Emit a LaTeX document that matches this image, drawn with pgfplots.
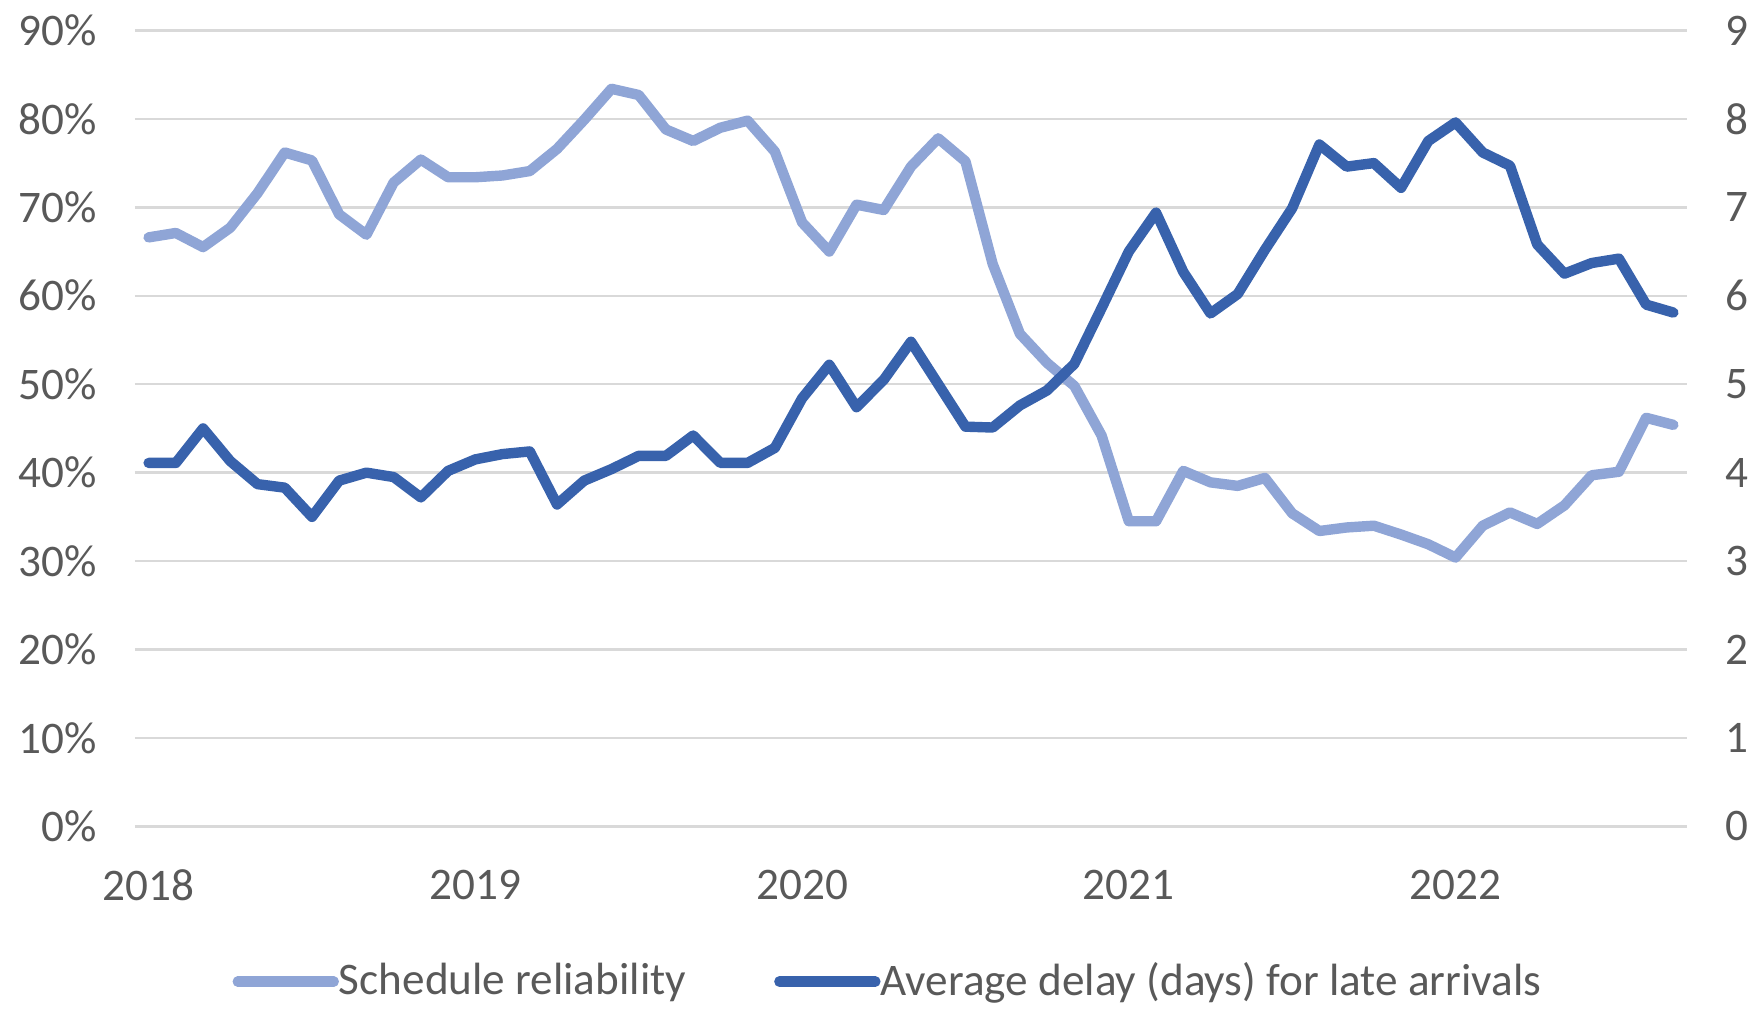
\documentclass[border=0pt]{standalone}
\usepackage{pgfplots}
\pgfplotsset{compat=1.18}
\usepackage{pgfplotstable}
\usepackage{fontspec}
\setmainfont{Carlito}
\definecolor{lightb}{HTML}{8FA5D6}
\definecolor{darkb}{HTML}{3862AC}
\definecolor{txt}{HTML}{595959}
\definecolor{gridc}{HTML}{D9D9D9}

\pgfplotstableread{
m v
0 66.6
1 67.1
2 65.5
3 67.7
4 71.6
5 76.2
6 75.3
7 69.2
8 66.9
9 72.8
10 75.4
11 73.4
12 73.4
13 73.6
14 74.1
15 76.6
16 79.9
17 83.4
18 82.7
19 78.8
20 77.5
21 79.0
22 79.8
23 76.3
24 68.3
25 65.0
26 70.3
27 69.7
28 74.6
29 77.8
30 75.2
31 63.6
32 55.7
33 52.4
34 49.8
35 44.2
36 34.5
37 34.5
38 40.2
39 38.9
40 38.5
41 39.4
42 35.4
43 33.4
44 33.8
45 34.0
46 33.0
47 31.9
48 30.4
49 34.0
50 35.5
51 34.2
52 36.3
53 39.7
54 40.1
55 46.2
56 45.4
}\reliab

\pgfplotstableread{
m v
0 4.11
1 4.11
2 4.50
3 4.13
4 3.87
5 3.83
6 3.50
7 3.91
8 4.00
9 3.95
10 3.72
11 4.02
12 4.15
13 4.21
14 4.24
15 3.64
16 3.91
17 4.04
18 4.19
19 4.19
20 4.42
21 4.11
22 4.11
23 4.28
24 4.84
25 5.22
26 4.74
27 5.05
28 5.48
29 5.00
30 4.52
31 4.51
32 4.76
33 4.93
34 5.23
35 5.86
36 6.50
37 6.94
38 6.27
39 5.80
40 6.02
41 6.52
42 6.99
43 7.71
44 7.46
45 7.50
46 7.22
47 7.75
48 7.96
49 7.62
50 7.47
51 6.58
52 6.25
53 6.37
54 6.42
55 5.90
56 5.81
}\delay

\begin{document}
\begin{tikzpicture}
\path[use as bounding box] (-33.75pt,-45.5pt) rectangle (406.25pt,206.6pt);
\begin{axis}[
  at={(0,0)}, anchor=south west, scale only axis,
  width=388pt, height=199pt,
  xmin=-0.5, xmax=56.5, ymin=0, ymax=90,
  axis line style={draw=none},
  major tick length=0pt,
  ytick={0,10,...,90},
  yticklabel={\pgfmathprintnumber{\tick}\%},
  ymajorgrids, grid style={gridc, line width=0.6pt},
  xtick={0,12,24,36,48},
  xticklabels={2018,2019,2020,2021,2022},
  tick label style={font=\fontsize{11.3}{13}\selectfont, text=txt},
  xticklabel style={yshift=-7.3pt},
  yticklabel style={xshift=-6pt},
  /pgf/number format/assume math mode=true,
]
\addplot[lightb, line width=2.6pt, line join=round, line cap=round] table[x=m,y=v]{\reliab};
\end{axis}
\begin{axis}[
  at={(0,0)}, anchor=south west, scale only axis,
  width=388pt, height=199pt,
  xmin=-0.5, xmax=56.5, ymin=0, ymax=9,
  axis y line*=right, axis x line=none,
  axis line style={draw=none},
  major tick length=0pt,
  ytick={0,1,...,9},
  tick label style={font=\fontsize{11.3}{13}\selectfont, text=txt},
  yticklabel style={xshift=6pt},
  /pgf/number format/assume math mode=true,
  legend style={at={(0.487,-0.195)}, anchor=center, draw=none, fill=none,
    font=\fontsize{11.3}{13}\selectfont, text=txt, legend columns=2,
    /tikz/every odd column/.append style={column sep=-2pt},
    /tikz/every even column/.append style={column sep=20pt}},
  legend image code/.code={\draw[#1] (0pt,0pt) -- (24pt,0pt);},
]
\addlegendimage{lightb, line width=2.6pt, line cap=round}
\addlegendentry{Schedule reliability}
\addplot[darkb, line width=2.6pt, line join=round, line cap=round] table[x=m,y=v]{\delay};
\addlegendentry{Average delay (days) for late arrivals}
\end{axis}
\end{tikzpicture}
\end{document}
